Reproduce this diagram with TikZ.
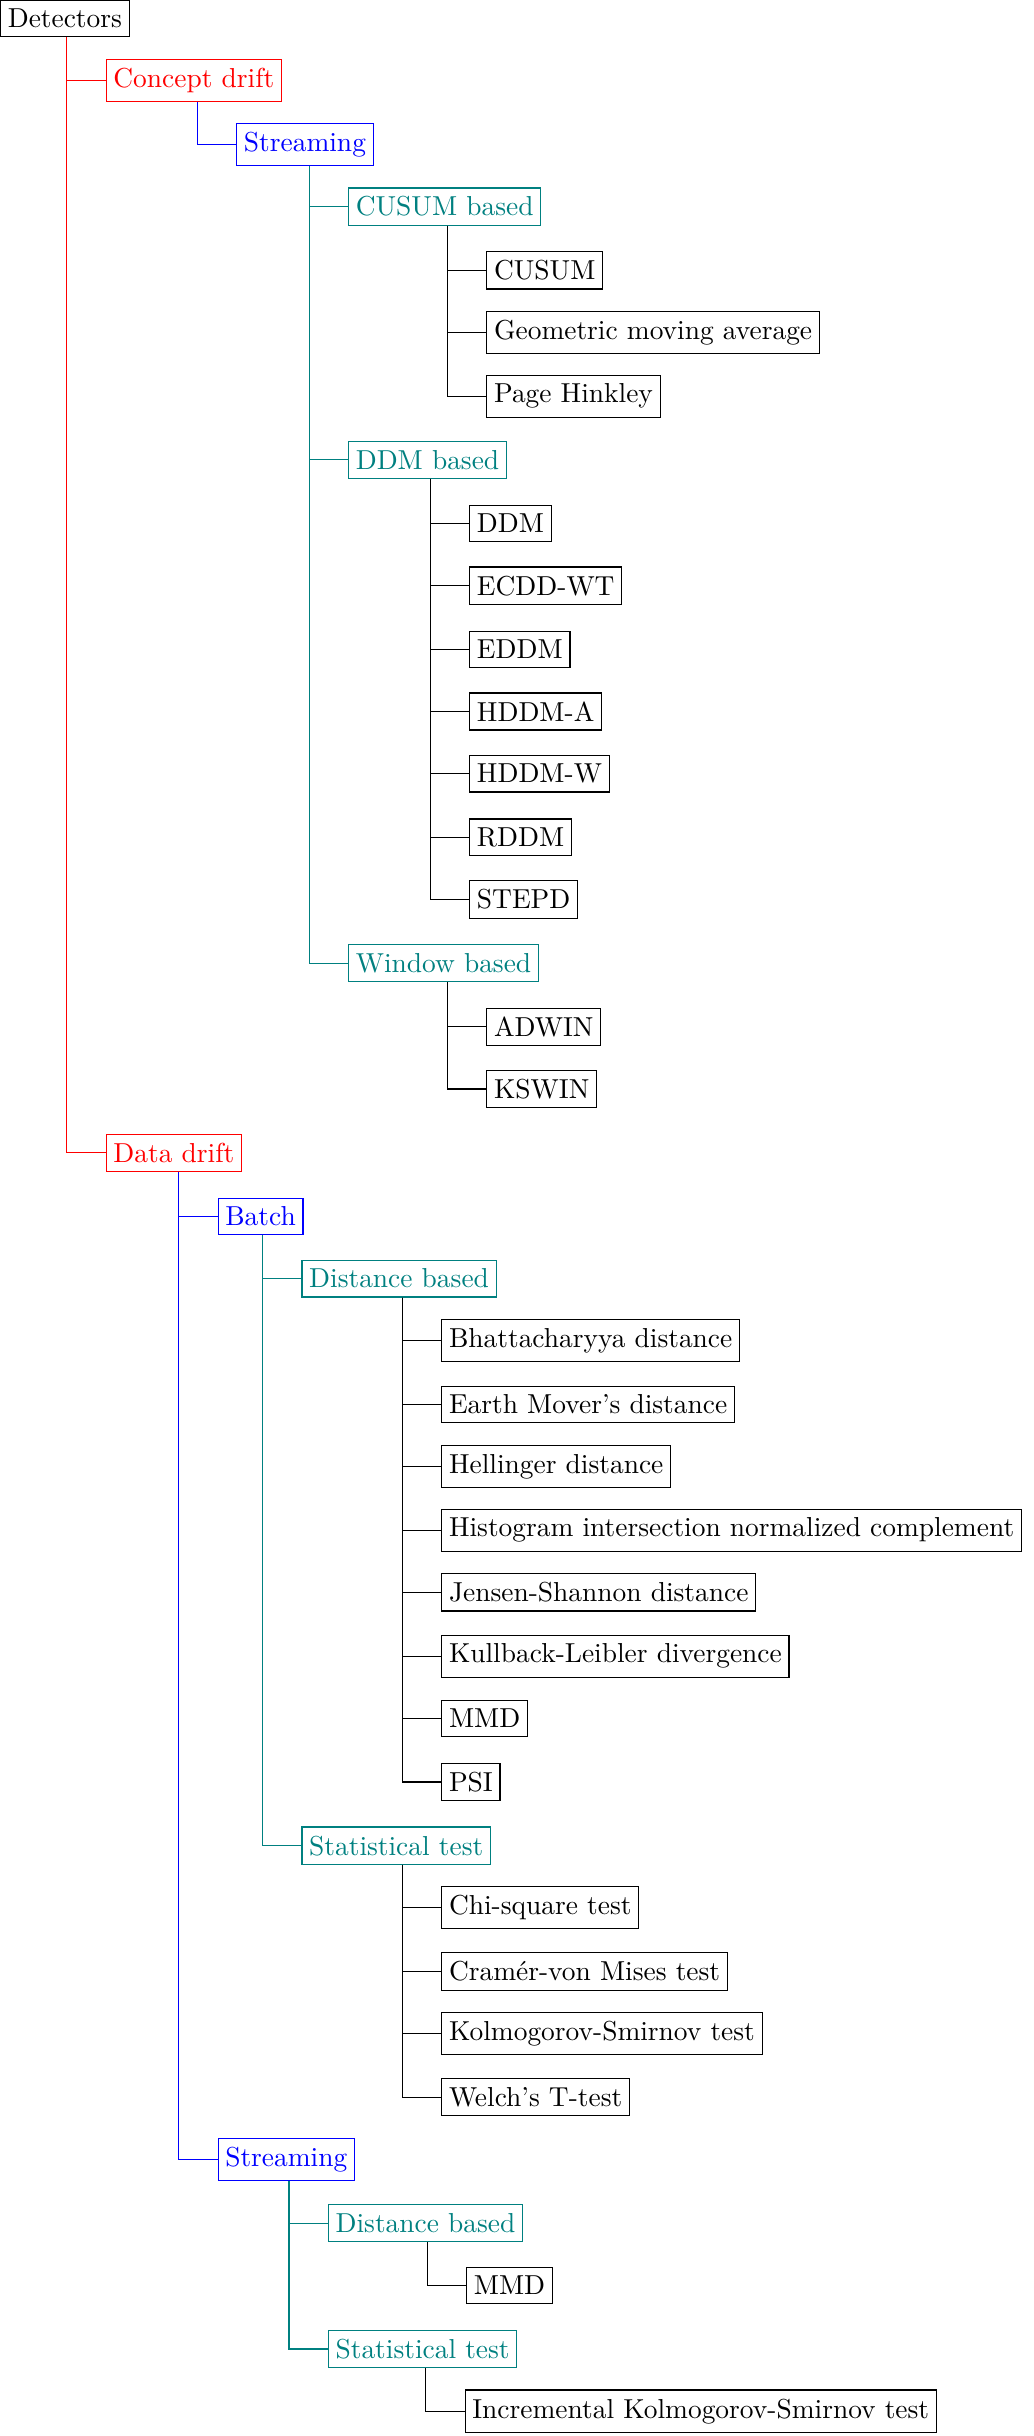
\documentclass[tikz,border=0pt]{standalone}
\usepackage{tikz}

\begin{document}
\begin{tikzpicture}
    [x=0.538pt,y=-0.538pt,every node/.style={draw,anchor=west,inner xsep=2.5pt,inner ysep=3pt,
        font=\fontsize{9.5}{11}\selectfont}]
    \useasboundingbox (0,0) rectangle (665,1568);
    % levels
    \node (det) at (0,12) {Detectors};
    \node[red] (cd) at (68,52) {Concept drift};
    \node[blue] (cs) at (152,93) {Streaming};
    \node[teal] (cb) at (224,133) {CUSUM based};
    \node[teal] (db) at (224,296) {DDM based};
    \node[teal] (wb) at (224,620) {Window based};
    \node[red] (dd) at (68,742) {Data drift};
    \node[blue] (bt) at (140,783) {Batch};
    \node[teal] (bd) at (194,823) {Distance based};
    \node[teal] (bs) at (194,1188) {Statistical test};
    \node[blue] (ds) at (140,1390) {Streaming};
    \node[teal] (sd) at (211,1431) {Distance based};
    \node[teal] (st) at (211,1512) {Statistical test};

    % inner edges
    \foreach \from/\to/\off/\col in {det/cd/43/red,det/dd/43/red,cd/cs/59/blue,
        cs/cb/47/teal,cs/db/47/teal,cs/wb/47/teal,dd/bt/47/blue,dd/ds/47/blue,
        bt/bd/29/teal,bt/bs/29/teal,ds/sd/46/teal,ds/st/46/teal}
    \draw[\col] ([xshift=\off*0.538pt]\from.south west) |- (\to.west);

    % leaves
    \foreach \name/\y in {CUSUM/174,Geometric moving average/214,Page Hinkley/255}
    {\node (l\y) at (313,\y) {\name}; \draw ([xshift=64*0.538pt]cb.south west) |- (l\y.west);}
    \foreach \name/\y in {DDM/337,ECDD-WT/377,EDDM/418,HDDM-A/458,HDDM-W/498,RDDM/539,STEPD/579}
    {\node (l\y) at (302,\y) {\name}; \draw ([xshift=53*0.538pt]db.south west) |- (l\y.west);}
    \foreach \name/\y in {ADWIN/661,KSWIN/701}
    {\node (l\y) at (313,\y) {\name}; \draw ([xshift=64*0.538pt]wb.south west) |- (l\y.west);}
    \foreach \name/\y in {Bhattacharyya distance/863,Earth Mover's distance/904,Hellinger distance/944,
        Histogram intersection normalized complement/985,Jensen-Shannon distance/1025,
        Kullback-Leibler divergence/1066,MMD/1106,PSI/1147}
    {\node (l\y) at (284,\y) {\name}; \draw ([xshift=65*0.538pt]bd.south west) |- (l\y.west);}
    \foreach \name/\y in {Chi-square test/1228,Cram\'er-von Mises test/1269,
        Kolmogorov-Smirnov test/1309,Welch's T-test/1350}
    {\node (l\y) at (284,\y) {\name}; \draw ([xshift=65*0.538pt]bs.south west) |- (l\y.west);}
    \node (l1471) at (300,1471) {MMD};
    \draw ([xshift=64*0.538pt]sd.south west) |- (l1471.west);
    \node (l1552) at (299,1552) {Incremental Kolmogorov-Smirnov test};
    \draw ([xshift=63*0.538pt]st.south west) |- (l1552.west);
\end{tikzpicture}
\end{document}
